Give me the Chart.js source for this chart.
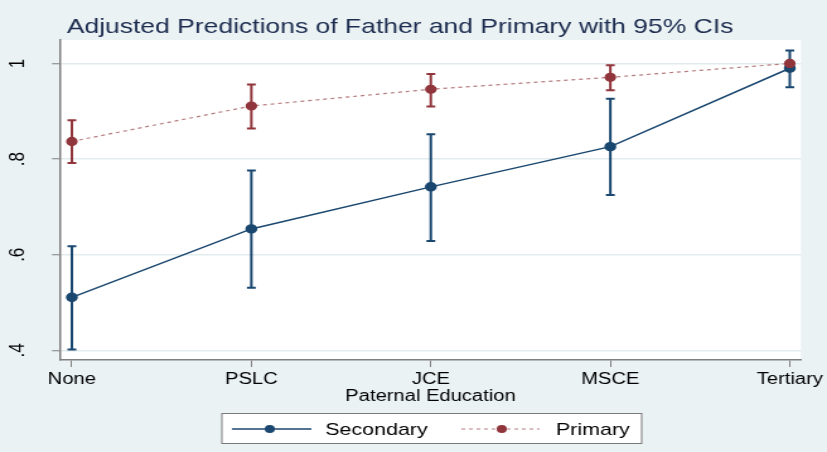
<!DOCTYPE html>
<html>
<head>
<meta charset="utf-8">
<script src="https://cdn.jsdelivr.net/npm/chart.js@4.4.1/dist/chart.umd.min.js"></script>
<style>
  html, body { margin: 0; padding: 0; background: #eaf2f3; }
</style>
</head>
<body>
<!-- drawn at 656 wide and stretched, the reference is horizontally stretched too -->
<canvas id="chart" width="656" height="452" style="width:827px;height:452px;display:block"></canvas>
<script>
// Data
const categories = ["None", "PSLC", "JCE", "MSCE", "Tertiary"];
const secondaryMean = [0.511, 0.654, 0.742, 0.826, 0.990];
const secondaryLow = [0.402, 0.531, 0.629, 0.725, 0.950];
const secondaryHigh = [0.618, 0.776, 0.852, 0.926, 1.027];
const primaryMean = [0.837, 0.911, 0.946, 0.971, 1.000];
const primaryLow = [0.792, 0.864, 0.910, 0.944, 0.998];
const primaryHigh = [0.881, 0.956, 0.978, 0.996, 1.002];
const yTicks = [0.4, 0.6, 0.8, 1];

const blue = "#1a476f";
const red = "#90353b";
const bgColor = "#eaf2f3";
const font = "'Liberation Sans', Arial, Helvetica, sans-serif";

// background + white plot region
const backgroundPlugin = {
  id: "background",
  beforeDraw(chart) {
    const { ctx, chartArea } = chart;
    ctx.save();
    ctx.fillStyle = bgColor;
    ctx.fillRect(0, 0, chart.width, chart.height);
    ctx.fillStyle = "#ffffff";
    ctx.fillRect(chartArea.left, chartArea.top, chartArea.right - chartArea.left, chartArea.bottom - chartArea.top);
    ctx.restore();
  },
};

// 95% CI bars drawn through the y scale
const errorBarPlugin = {
  id: "errorBars",
  beforeDatasetsDraw(chart) {
    const { ctx } = chart;
    const yScale = chart.scales.y;
    chart.data.datasets.forEach((ds, i) => {
      const meta = chart.getDatasetMeta(i);
      ctx.save();
      ctx.strokeStyle = ds.ciColor;
      ctx.lineWidth = 2;
      meta.data.forEach((pt, j) => {
        const top = yScale.getPixelForValue(ds.ciHigh[j]);
        const bottom = yScale.getPixelForValue(ds.ciLow[j]);
        const x = pt.x;
        ctx.beginPath();
        ctx.moveTo(x, top);
        ctx.lineTo(x, bottom);
        ctx.moveTo(x - 3.5, top);
        ctx.lineTo(x + 3.5, top);
        ctx.moveTo(x - 3.5, bottom);
        ctx.lineTo(x + 3.5, bottom);
        ctx.stroke();
      });
      ctx.restore();
    });
  },
};

// title and legend box like the Stata output
const decorPlugin = {
  id: "decor",
  afterDraw(chart) {
    const { ctx } = chart;
    ctx.save();
    ctx.fillStyle = "#1c2b4f";
    ctx.font = "21px " + font;
    ctx.textBaseline = "alphabetic";
    ctx.textAlign = "left";
    ctx.fillText("Adjusted Predictions of Father and Primary with 95% CIs", 53, 33);

    // legend
    ctx.fillStyle = "#ffffff";
    ctx.strokeStyle = "#7a7a7a";
    ctx.lineWidth = 1;
    ctx.fillRect(176, 413.5, 333, 30);
    ctx.strokeRect(176, 413.5, 333, 30);
    const ly = 429;

    ctx.strokeStyle = blue;
    ctx.lineWidth = 1.5;
    ctx.beginPath();
    ctx.moveTo(184, ly);
    ctx.lineTo(247, ly);
    ctx.stroke();
    ctx.fillStyle = blue;
    ctx.beginPath();
    ctx.arc(214, ly, 4, 0, Math.PI * 2);
    ctx.fill();

    ctx.strokeStyle = "rgba(144,53,59,0.65)";
    ctx.lineWidth = 1.2;
    ctx.setLineDash([3, 3]);
    ctx.beginPath();
    ctx.moveTo(366, ly);
    ctx.lineTo(428, ly);
    ctx.stroke();
    ctx.setLineDash([]);
    ctx.fillStyle = red;
    ctx.beginPath();
    ctx.arc(398, ly, 4, 0, Math.PI * 2);
    ctx.fill();

    ctx.fillStyle = "#000000";
    ctx.font = "17px " + font;
    ctx.textBaseline = "middle";
    ctx.fillText("Secondary", 258, ly + 1);
    ctx.fillText("Primary", 441, ly + 1);
    ctx.restore();
  },
};

const toPoints = (vals) => vals.map((v, i) => ({ x: i, y: v }));

const chart = new Chart(document.getElementById("chart"), {
  type: "scatter",
  data: {
    datasets: [
      {
        label: "Primary",
        data: toPoints(primaryMean),
        ciLow: primaryLow,
        ciHigh: primaryHigh,
        ciColor: red,
        showLine: true,
        borderColor: "rgba(144,53,59,0.65)",
        borderWidth: 1.2,
        borderDash: [3, 3],
        pointBackgroundColor: red,
        pointBorderColor: red,
        pointRadius: 4,
        order: 0,
      },
      {
        label: "Secondary",
        data: toPoints(secondaryMean),
        ciLow: secondaryLow,
        ciHigh: secondaryHigh,
        ciColor: blue,
        showLine: true,
        borderColor: blue,
        borderWidth: 1.5,
        pointBackgroundColor: blue,
        pointBorderColor: blue,
        pointRadius: 4,
        order: 1,
      },
    ],
  },
  options: {
    responsive: false,
    animation: false,
    layout: { padding: { top: 40, right: 18.3, bottom: 0, left: 0 } },
    plugins: {
      legend: { display: false },
      tooltip: { enabled: false },
    },
    scales: {
      x: {
        type: "linear",
        min: -0.066,
        max: 4.062,
        afterFit(scale) {
          scale.height = 92;
        },
        afterBuildTicks(scale) {
          scale.ticks = categories.map((_, i) => ({ value: i }));
        },
        border: { color: "#808080", width: 1.5 },
        grid: { drawOnChartArea: false, tickLength: 7, tickColor: "#808080", tickWidth: 1 },
        ticks: {
          color: "#000000",
          font: { family: font, size: 16 },
          padding: 3,
          maxRotation: 0,
          callback: (v) => categories[v],
        },
        title: {
          display: true,
          text: "Paternal Education",
          color: "#000000",
          font: { family: font, size: 16 },
          padding: { top: 0, bottom: 46 },
        },
      },
      y: {
        min: 0.38,
        max: 1.049,
        afterFit(scale) {
          scale.width = 47.6;
        },
        afterBuildTicks(scale) {
          scale.ticks = yTicks.map((v) => ({ value: v }));
        },
        border: { color: "#808080", width: 1.5 },
        grid: { color: "#e2ebee", lineWidth: 1.5, tickLength: 6.4, tickColor: "#808080", tickWidth: 1 },
        ticks: {
          color: "#000000",
          font: { family: font, size: 17 },
          minRotation: 90,
          maxRotation: 90,
          crossAlign: "center",
          padding: 20,
          callback: (v) => (v === 1 ? "1" : String(v).replace(/^0/, "")),
        },
      },
    },
  },
  plugins: [backgroundPlugin, errorBarPlugin, decorPlugin],
});
</script>
</body>
</html>
